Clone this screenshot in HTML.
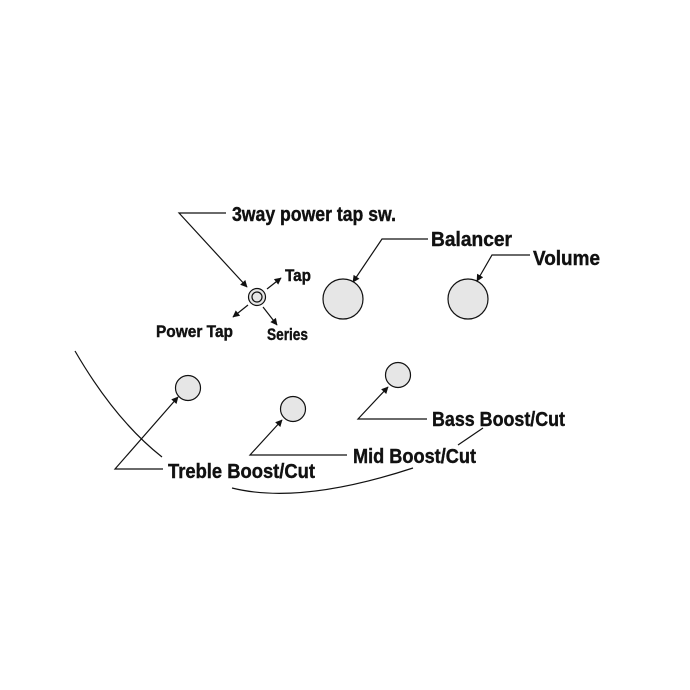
<!DOCTYPE html>
<html><head><style>html,body{margin:0;padding:0;background:#fff}svg{display:block}</style></head><body>
<svg width="690" height="690" viewBox="0 0 690 690" xmlns="http://www.w3.org/2000/svg">
<defs><marker id="a" viewBox="0 0 10 10" refX="9" refY="5" markerWidth="9" markerHeight="7" orient="auto" markerUnits="userSpaceOnUse"><path d="M0,0 L10,5 L0,10 z" fill="#111"/></marker></defs>
<g fill="none" stroke="#111" stroke-width="1.2">
<path d="M75,351 Q115,420 162,457"/>
<path d="M232,488 Q300,505 413,468"/>
<path d="M458,445 L483,428"/>
<path d="M226,213 L179,213 L247,287" marker-end="url(#a)"/>
<path d="M267,289 L281,278" marker-end="url(#a)"/>
<path d="M248,305 L233,317" marker-end="url(#a)"/>
<path d="M263,307 L277,325" marker-end="url(#a)"/>
<path d="M428,239 L382,239 L353,282" marker-end="url(#a)"/>
<path d="M530,255 L492,255 L477,281" marker-end="url(#a)"/>
<path d="M163,469 L115,469 L178,397" marker-end="url(#a)"/>
<path d="M347,455 L250,455 L282,420" marker-end="url(#a)"/>
<path d="M427,419 L358,419 L388,387" marker-end="url(#a)"/>
</g>
<g stroke="#111" stroke-width="1.2" fill="#e6e6e6">
<circle cx="257" cy="297" r="8.5"/>
<circle cx="257" cy="297" r="5"/>
<circle cx="343" cy="299" r="20"/>
<circle cx="468" cy="299" r="20"/>
<circle cx="188" cy="388" r="12.5"/>
<circle cx="293" cy="409" r="12.5"/>
<circle cx="398" cy="375" r="12.5"/>
</g>
<g font-family="Liberation Sans, sans-serif" font-weight="bold" fill="#111" stroke="#111" stroke-width="0.4">
<text x="232" y="221" font-size="20" textLength="164" lengthAdjust="spacingAndGlyphs">3way power tap sw.</text>
<text x="431" y="246" font-size="20" textLength="81" lengthAdjust="spacingAndGlyphs">Balancer</text>
<text x="533" y="265" font-size="20" textLength="67" lengthAdjust="spacingAndGlyphs">Volume</text>
<text x="285" y="281" font-size="16.5" textLength="26" lengthAdjust="spacingAndGlyphs">Tap</text>
<text x="156" y="337" font-size="16.5" textLength="77" lengthAdjust="spacingAndGlyphs">Power Tap</text>
<text x="267" y="340" font-size="16.5" textLength="41" lengthAdjust="spacingAndGlyphs">Series</text>
<text x="168" y="478" font-size="20" textLength="147" lengthAdjust="spacingAndGlyphs">Treble Boost/Cut</text>
<text x="353" y="463" font-size="20" textLength="123" lengthAdjust="spacingAndGlyphs">Mid Boost/Cut</text>
<text x="432" y="426" font-size="20" textLength="133" lengthAdjust="spacingAndGlyphs">Bass Boost/Cut</text>
</g>
</svg>
</body></html>
